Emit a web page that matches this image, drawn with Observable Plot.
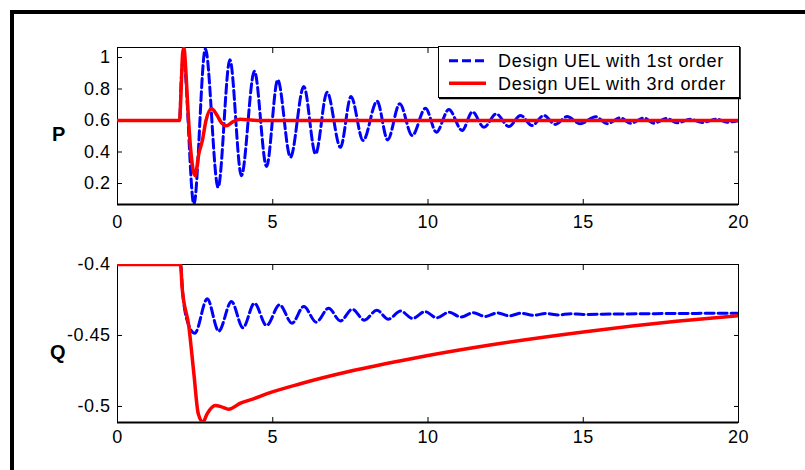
<!DOCTYPE html>
<html><head><meta charset="utf-8">
<script src="https://cdn.jsdelivr.net/npm/d3@7"></script>
<script src="https://cdn.jsdelivr.net/npm/@observablehq/plot@0.6"></script>
<style>
body{margin:0;background:#fff;}
#chart{position:relative;width:805px;height:470px;overflow:hidden;background:#fff;font-family:"Liberation Sans",Arial,sans-serif;}
.bar{position:absolute;background:#000;}
.plot{position:absolute;left:0;}
.ylab{position:absolute;font-weight:bold;font-size:20px;line-height:20px;}
#legend{position:absolute;left:438px;top:46px;}
svg{letter-spacing:0.5px;}
</style></head>
<body>
<div id="chart">
  <div class="bar" style="left:10px;top:10px;width:795px;height:4px;"></div>
  <div class="bar" style="left:10px;top:10px;width:4px;height:460px;"></div>
  <div class="plot" id="topPlot" style="top:0px;"></div>
  <div class="plot" id="botPlot" style="top:240px;"></div>
  <div class="ylab" style="left:52px;top:124px;">P</div>
  <div class="ylab" style="left:50px;top:342px;">Q</div>
  <div id="legend"></div>
</div>
<script>
// ---- data ----
const xTicks = [0, 5, 10, 15, 20];
const pTicks = [0.2, 0.4, 0.6, 0.8, 1];
const qTicks = [-0.5, -0.45, -0.4];
const seriesNames = ["Design UEL with 1st order", "Design UEL with 3rd order"];

const tP1 = [0, 2.0, 2.05, 2.12, 2.46, 2.83, 3.24, 3.62, 3.99, 4.41, 4.80, 5.16, 5.57, 6.0, 6.38, 6.75, 7.18, 7.52, 7.91, 8.36, 8.70, 9.09, 9.49, 9.92, 10.27, 10.67, 11.1, 11.43, 11.8, 12.2, 12.6, 12.98, 13.35, 13.73, 14.1, 14.48, 14.9, 15.4, 15.77, 16.2, 16.52, 16.95, 17.27, 17.7, 18.02, 18.45, 18.83, 19.31, 19.63, 20];
const vP1 = [0.6, 0.6, 0.85, 1.0, 0.067, 1.055, 0.176, 0.985, 0.25, 0.913, 0.308, 0.858, 0.367, 0.816, 0.388, 0.78, 0.43, 0.752, 0.473, 0.723, 0.477, 0.706, 0.505, 0.678, 0.526, 0.67, 0.537, 0.655, 0.557, 0.642, 0.562, 0.632, 0.568, 0.632, 0.575, 0.625, 0.579, 0.624, 0.58, 0.617, 0.582, 0.616, 0.583, 0.613, 0.585, 0.608, 0.587, 0.608, 0.589, 0.6];

const tP3 = [0, 2.0, 2.04, 2.1, 2.14, 2.2, 2.26, 2.36, 2.5, 2.62, 2.73, 2.85, 3.03, 3.2, 3.35, 3.5, 3.7, 3.95, 4.3, 4.6, 20];
const vP3 = [0.6, 0.6, 0.75, 1.03, 1.063, 0.92, 0.7, 0.41, 0.25, 0.39, 0.47, 0.6, 0.674, 0.635, 0.585, 0.566, 0.59, 0.608, 0.603, 0.6, 0.6];

const tQ1 = [0, 2.03, 2.1, 2.25, 2.49, 2.89, 3.26, 3.67, 4.04, 4.41, 4.80, 5.22, 5.62, 6.0, 6.40, 6.80, 7.18, 7.56, 7.95, 8.35, 8.72, 9.12, 9.5, 9.9, 10.28, 10.68, 11.06, 11.46, 11.84, 12.24, 12.62, 13.0, 13.4, 13.8, 14.2, 14.6, 15.0, 16, 17, 18, 19, 20];
const vQ1 = [-0.4, -0.4, -0.42, -0.44, -0.4484, -0.4242, -0.447, -0.426, -0.4446, -0.4273, -0.443, -0.4284, -0.4413, -0.4296, -0.4406, -0.4308, -0.4398, -0.4315, -0.4392, -0.4322, -0.4385, -0.4328, -0.438, -0.4332, -0.4375, -0.4336, -0.437, -0.4339, -0.4366, -0.4341, -0.4362, -0.4343, -0.4358, -0.4345, -0.4355, -0.4347, -0.4352, -0.4349, -0.4347, -0.4345, -0.4344, -0.4343];

const tQ3 = [0, 2.03, 2.08, 2.3, 2.46, 2.6, 2.75, 2.89, 3.15, 3.35, 3.58, 3.96, 4.4, 4.82, 5.89, 7.45, 9, 10, 12, 15, 18, 20];
const vQ3 = [-0.4, -0.4, -0.416, -0.444, -0.477, -0.505, -0.511, -0.505, -0.4993, -0.5003, -0.502, -0.4977, -0.4945, -0.491, -0.484, -0.4754, -0.4683, -0.4641, -0.4567, -0.4475, -0.44, -0.436];

const pDomain = [0.0667, 1.0635];
const qDomain = [-0.5113, -0.4];
// --------------------------------------

const toRows = (ts, vs) => ts.map((t, i) => ({t, v: vs[i]}));
const fmt = d => String(d);
const blue = "#0000ff", red = "#ff0000";
const style = {fontFamily: "'Liberation Sans', Arial, sans-serif", fontSize: "18px", background: "transparent", color: "black"};

function panel(d1, d3, yDomain, yTicks, height, mt, mb, xPad) {
  return Plot.plot({
    width: 805, height,
    marginLeft: 117, marginRight: 67, marginTop: mt, marginBottom: mb,
    x: {domain: [0, 20]},
    y: {domain: yDomain},
    style,
    marks: [
      Plot.frame({stroke: "black", strokeWidth: 1}),
      Plot.ruleY([yDomain[0]], {stroke: "black", strokeWidth: 2}),
      Plot.axisX({ticks: xTicks, tickSize: -5, tickPadding: xPad, tickFormat: fmt, label: null}),
      Plot.axisX({anchor: "top", ticks: xTicks, tickSize: -5, tickFormat: () => "", label: null}),
      Plot.axisY({ticks: yTicks, tickSize: -5, tickPadding: 12, tickFormat: fmt, label: null}),
      Plot.axisY({anchor: "right", ticks: yTicks, tickSize: -5, tickFormat: () => "", label: null}),
      Plot.line(d1, {x: "t", y: "v", stroke: blue, strokeWidth: 3, strokeDasharray: "9,4", curve: "monotone-x", clip: true}),
      Plot.line(d3, {x: "t", y: "v", stroke: red, strokeWidth: 3.5, curve: "monotone-x", clip: true})
    ]
  });
}

document.getElementById("topPlot").append(
  panel(toRows(tP1, vP1), toRows(tP3, vP3), pDomain, pTicks, 240, 47, 36, 16)
);
document.getElementById("botPlot").append(
  panel(toRows(tQ1, vQ1), toRows(tQ3, vQ3), qDomain, qTicks, 230, 24, 48, 13)
);

// legend
const lg = d3.select("#legend").append("svg").attr("width", 304).attr("height", 54)
  .style("font-family", "'Liberation Sans', Arial, sans-serif").style("font-size", "18px")
  .style("letter-spacing", "0.7px");
lg.append("rect").attr("x", 0.5).attr("y", 0.5).attr("width", 301).attr("height", 51)
  .attr("fill", "white").attr("stroke", "black").attr("stroke-width", 1);
lg.append("line").attr("x1", 302).attr("x2", 302).attr("y1", 1).attr("y2", 53).attr("stroke", "black").attr("stroke-width", 1.5);
lg.append("line").attr("x1", 1).attr("x2", 303).attr("y1", 52.5).attr("y2", 52.5).attr("stroke", "black").attr("stroke-width", 1.5);
const rows = [{y: 14.7, c: blue, dash: "9,4", w: 3}, {y: 37.3, c: red, dash: null, w: 3.5}];
rows.forEach((r, i) => {
  lg.append("line").attr("x1", 11).attr("x2", 48).attr("y1", r.y).attr("y2", r.y)
    .attr("stroke", r.c).attr("stroke-width", r.w).attr("stroke-dasharray", r.dash);
  lg.append("text").attr("x", 60).attr("y", r.y + 6.4).text(seriesNames[i]);
});
</script>
</body></html>
